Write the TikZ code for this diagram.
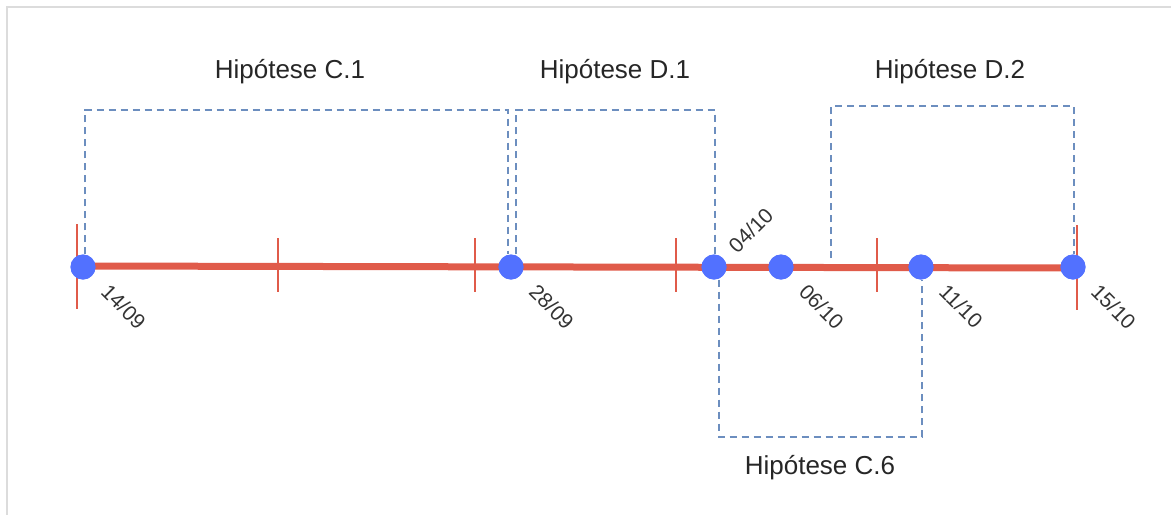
\documentclass[tikz,border=0pt]{standalone}
\usepackage{fontspec}
\setmainfont{Liberation Sans}
\usetikzlibrary{calc}
\definecolor{tlred}{HTML}{E05B4A}
\definecolor{tlblue}{HTML}{5271FF}
\definecolor{hypblue}{HTML}{6C8EBF}
\definecolor{framegray}{HTML}{DCDCDC}
\begin{document}
\begin{tikzpicture}[x=1pt,y=-1pt,
  dot/.style={circle,fill=tlblue,minimum size=25pt,inner sep=0pt},
  hyp/.style={draw=hypblue,line width=1.4pt,dash pattern=on 7pt off 5pt},
  axisline/.style={draw=tlred,line width=7pt},
  tickmark/.style={draw=tlred,line width=2pt},
  datelbl/.style={font=\fontsize{21}{21}\selectfont,text=black!80,inner sep=0pt},
  hyptitle/.style={font=\fontsize{26}{26}\selectfont,text=black!85}]
\useasboundingbox (0,0) rectangle (1171,515);
\draw[framegray,line width=2pt] (1171,7) -- (7,7) -- (7,515);

% axis
\coordinate (a0) at (76,266);
\coordinate (a1) at (1077,268);
\draw[axisline] (a0) -- (a1);
% ticks
\draw[tickmark] (77,224) -- (77,309);
\draw[tickmark] (278,238) -- (278,292);
\draw[tickmark] (475,238) -- (475,292);
\draw[tickmark] (676,238) -- (676,292);
\draw[tickmark] (877,238) -- (877,292);
\draw[tickmark] (1077,225) -- (1077,310);

% dots
\node[dot] (d1) at (83,267) {};
\node[dot] (d2) at (511,267) {};
\node[dot] (d3) at (714,267) {};
\node[dot] (d4) at (781,267) {};
\node[dot] (d5) at (921,267) {};
\node[dot] (d6) at (1073,267) {};

% hypothesis boxes
\coordinate (c1a) at (85,110);
\coordinate (c1b) at (508,110);
\draw[hyp] (d1.north -| c1a) -- (c1a) -- (c1b) -- (d2.north -| c1b);
\coordinate (d1a) at (516,110);
\coordinate (d1b) at (715,110);
\draw[hyp] (d2.north -| d1a) -- (d1a) -- (d1b) -- (d3.north -| d1b);
\coordinate (d2a) at (831,106);
\coordinate (d2b) at (1074,106);
\coordinate (d2e) at (831,258);
\draw[hyp] (d2e) -- (d2a) -- (d2b) -- (d6.north -| d2b);
\coordinate (c6a) at (719,437);
\coordinate (c6b) at (922,437);
\draw[hyp] (d3.south -| c6a) -- (c6a) -- (c6b) -- (d5.south -| c6b);

% redraw dots on top
\foreach \n in {d1,d2,d3,d4,d5,d6} \fill[tlblue] (\n) circle (12.5pt);

% titles
\node[hyptitle] (t1) at (290,72) {Hipótese C.1};
\node[hyptitle] (t2) at (615,72) {Hipótese D.1};
\node[hyptitle] (t3) at (950,72) {Hipótese D.2};
\node[hyptitle] (t4) at (820,468) {Hipótese C.6};

% date labels
\node[datelbl,rotate=-45,anchor=west] (l1) at ($(d1)+(22,21)$) {14/09};
\node[datelbl,rotate=-45,anchor=west] (l2) at ($(d2)+(22,21)$) {28/09};
\node[datelbl,rotate=45,anchor=west] (l3) at ($(d3)+(18,-18)$) {04/10};
\node[datelbl,rotate=-45,anchor=west] (l4) at ($(d4)+(22,21)$) {06/10};
\node[datelbl,rotate=-45,anchor=west] (l5) at ($(d5)+(22,21)$) {11/10};
\node[datelbl,rotate=-45,anchor=west] (l6) at ($(d6)+(22,21)$) {15/10};
\end{tikzpicture}
\end{document}
